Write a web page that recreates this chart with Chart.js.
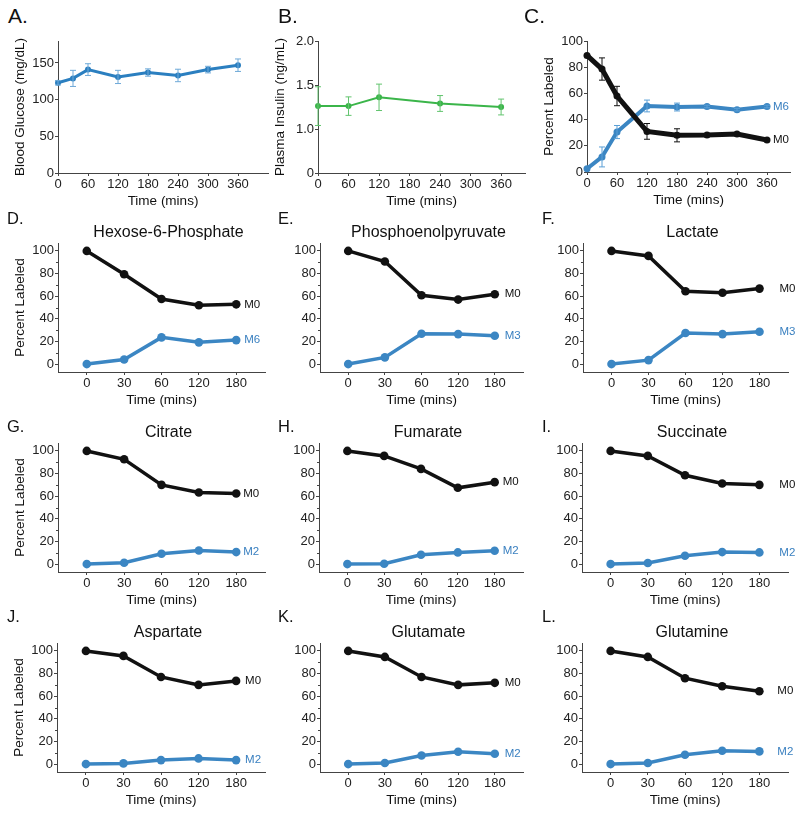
<!DOCTYPE html>
<html>
<head>
<meta charset="utf-8">
<script src="https://cdn.jsdelivr.net/npm/chart.js@4.4.1/dist/chart.umd.min.js"></script>
<style>
  body { margin: 0; width: 800px; height: 813px; position: relative; background: #fff; overflow: hidden;
         font-family: "Liberation Sans", Arial, Helvetica, sans-serif; }
  canvas { position: absolute; }
  .tag { position: absolute; color: #111; }
  .big { font-size: 21px; line-height: 21px; }
  .small { font-size: 16.5px; line-height: 16.5px; }
</style>
</head>
<body>
<script>
// ---- data ----
const minuteTicks = [0, 60, 120, 180, 240, 300, 360];

const glucoseTimes = [0, 30, 60, 120, 180, 240, 300, 360];
const glucose = [123, 129, 141, 131, 137, 133, 141, 147];
const glucoseErr = [3, 11, 8, 9, 5, 8.5, 4.5, 8.5];
const glucoseTicks = [0, 50, 100, 150];

const insulinTimes = [0, 60, 120, 240, 360];
const insulin = [1.26, 1.26, 1.36, 1.29, 1.25];
const insulinErr = [0.22, 0.105, 0.15, 0.09, 0.09];
const insulinTicks = [0.5, 1.0, 1.5, 2.0];
const insulinTickLabels = ['0', '1.0', '1.5', '2.0'];

const plasmaTimes = [0, 30, 60, 120, 180, 240, 300, 360];
const plasmaM0 = [89, 78.6, 58, 31, 28, 28.2, 29, 24.4];
const plasmaM0Err = [0, 8.5, 7.4, 6, 5, 1, 1, 1];
const plasmaM6 = [2.5, 11.5, 30.5, 50.4, 49.6, 50, 47.6, 50];
const plasmaM6Err = [0, 7.6, 5, 4.5, 3, 1, 1, 1];
const percentTicks = [0, 20, 40, 60, 80, 100];
const percentMinor = [10, 30, 50, 70, 90];

const tissueTimes = ['0', '30', '60', '120', '180'];
const tissueIdx = [0, 1, 2, 3, 4];

const metabolites = ['Hexose-6-Phosphate', 'Phosphoenolpyruvate', 'Lactate',
                     'Citrate', 'Fumarate', 'Succinate',
                     'Aspartate', 'Glutamate', 'Glutamine'];
const heavyLabels = ['M6', 'M3', 'M3', 'M2', 'M2', 'M2', 'M2', 'M2', 'M2'];

const hexoseM0 = [100, 79.4, 57.5, 52, 52.8];
const hexoseMx = [0, 4.1, 23.6, 19.2, 21.2];
const pepM0 = [100, 90.6, 60.8, 57, 61.7];
const pepMx = [0, 5.9, 26.8, 26.5, 25];
const lactateM0 = [100, 95.6, 64.3, 63.1, 66.7];
const lactateMx = [0, 3.5, 27.4, 26.5, 28.6];
const citrateM0 = [100, 92.6, 70, 63.2, 62.4];
const citrateMx = [0, 1.2, 9.1, 12, 10.6];
const fumarateM0 = [100, 95.6, 84.1, 67.4, 72.4];
const fumarateMx = [0, 0.3, 8.2, 10.3, 11.8];
const succinateM0 = [100, 95.6, 78.5, 71.2, 70];
const succinateMx = [0, 0.9, 7.4, 10.6, 10.3];
const aspartateM0 = [100, 95.6, 77, 70, 73.5];
const aspartateMx = [0, 0.6, 3.5, 5, 3.5];
const glutamateM0 = [100, 94.7, 77, 70, 71.8];
const glutamateMx = [0, 0.9, 7.6, 10.9, 9.1];
const glutamineM0 = [100, 94.7, 75.9, 68.8, 64.4];
const glutamineMx = [0, 0.9, 8.2, 11.8, 11.2];

const tissueM0 = [hexoseM0, pepM0, lactateM0, citrateM0, fumarateM0, succinateM0, aspartateM0, glutamateM0, glutamineM0];
const tissueMx = [hexoseMx, pepMx, lactateMx, citrateMx, fumarateMx, succinateMx, aspartateMx, glutamateMx, glutamineMx];

// ---- styling ----
const AXIS = '#444';
const BLACK = '#111';
const BLUE = '#3b86c3';
const BLUE_TXT = '#3a80c0';
const GREEN = '#3bb54a';
Chart.defaults.font.family = '"Liberation Sans", Arial, Helvetica, sans-serif';
Chart.defaults.color = '#222';
Chart.defaults.animation = false;

const Y_W = 46, X_H = 36, PAD_R = 22;

// error bars, minor ticks, series labels and panel titles
const extras = {
  id: 'extras',
  afterDatasetsDraw(chart) {
    const o = chart.options.plugins.extras;
    const {ctx, chartArea, scales: {x, y}} = chart;
    ctx.save();
    o.series.forEach((s, di) => {
      const pts = chart.data.datasets[di].data;
      if (s.err) {
        ctx.strokeStyle = s.errColor || s.color;
        ctx.lineWidth = 1;
        pts.forEach((p, i) => {
          const e = s.err[i];
          if (!e) return;
          const px = x.getPixelForValue(p.x);
          const y1 = y.getPixelForValue(p.y + e), y2 = y.getPixelForValue(p.y - e);
          ctx.beginPath();
          ctx.moveTo(px, y1); ctx.lineTo(px, y2);
          ctx.moveTo(px - 3, y1); ctx.lineTo(px + 3, y1);
          ctx.moveTo(px - 3, y2); ctx.lineTo(px + 3, y2);
          ctx.stroke();
        });
      }
      if (s.label) {
        const last = pts[pts.length - 1];
        ctx.fillStyle = s.labelColor;
        ctx.font = '11.5px "Liberation Sans", Arial, sans-serif';
        ctx.textAlign = 'left';
        ctx.textBaseline = 'middle';
        ctx.fillText(s.label, x.getPixelForValue(last.x) + o.labelGap, y.getPixelForValue(last.y));
      }
    });
    if (o.minor) {
      ctx.strokeStyle = AXIS;
      ctx.lineWidth = 1;
      o.minor.forEach(v => {
        const py = Math.round(y.getPixelForValue(v)) + 0.5;
        ctx.beginPath();
        ctx.moveTo(chartArea.left - 2, py); ctx.lineTo(chartArea.left, py);
        ctx.stroke();
      });
    }
    if (o.title) {
      ctx.fillStyle = BLACK;
      ctx.font = '16px "Liberation Sans", Arial, sans-serif';
      ctx.textAlign = 'center';
      ctx.textBaseline = 'alphabetic';
      ctx.fillText(o.title, (chartArea.left + chartArea.right) / 2 + 7, chartArea.top - 6);
    }
    ctx.restore();
  }
};

function panel(o) {
  const [l, r, t, b] = o.box;
  const c = document.createElement('canvas');
  c.width = Y_W + (r - l) + PAD_R;
  c.height = o.padTop + (b - t) + X_H + 4;
  c.style.left = (l - Y_W) + 'px';
  c.style.top = (t - o.padTop) + 'px';
  document.body.appendChild(c);

  const datasets = o.series.map(s => ({
    data: s.x.map((xv, i) => ({x: xv, y: s.y[i]})),
    borderColor: s.color,
    backgroundColor: s.color,
    borderWidth: s.width,
    pointRadius: s.radius,
    pointBorderWidth: 0,
    tension: 0,
    clip: false
  }));

  new Chart(c, {
    type: 'line',
    data: {datasets},
    options: {
      responsive: false,
      layout: {padding: {top: o.padTop, right: PAD_R, bottom: 4, left: 0}},
      plugins: {legend: {display: false}, tooltip: {enabled: false}, extras: o},
      scales: {
        x: {
          type: 'linear', min: o.xMin, max: o.xMax,
          afterBuildTicks: s => { s.ticks = o.xTicks.map(v => ({value: v})); },
          afterFit: s => { s.height = X_H; },
          ticks: {font: {size: 13}, padding: 1, maxRotation: 0, autoSkip: false,
                  callback: (v, i) => o.xLabels[i]},
          grid: {display: true, drawOnChartArea: false, tickLength: 3, tickColor: AXIS},
          border: {display: true, color: AXIS, width: 1},
          title: {display: true, text: 'Time (mins)', font: {size: 13.5}, padding: 0, color: BLACK}
        },
        y: {
          type: 'linear', min: o.yMin, max: o.yMax,
          afterBuildTicks: s => { s.ticks = o.yTicks.map(v => ({value: v})); },
          afterFit: s => { s.width = Y_W; },
          ticks: {font: {size: 13}, padding: 1, autoSkip: false,
                  callback: (v, i) => o.yLabels[i]},
          grid: {display: true, drawOnChartArea: false, tickLength: 3, tickColor: AXIS},
          border: {display: true, color: AXIS, width: 1},
          title: {display: !!o.yTitle, text: o.yTitle || '', font: {size: 13.5}, padding: 0, color: BLACK}
        }
      }
    },
    plugins: [extras]
  });
}

function tag(text, left, top, cls) {
  const d = document.createElement('div');
  d.className = 'tag ' + cls;
  d.textContent = text;
  d.style.left = left + 'px';
  d.style.top = top + 'px';
  document.body.appendChild(d);
}

// ---- row 1 ----
panel({
  box: [58, 268, 41, 173], padTop: 10,
  xMin: 0, xMax: 420, xTicks: minuteTicks, xLabels: minuteTicks.map(String),
  yMin: 0, yMax: 180, yTicks: glucoseTicks, yLabels: glucoseTicks.map(String),
  yTitle: 'Blood Glucose (mg/dL)',
  series: [{x: glucoseTimes, y: glucose, err: glucoseErr, color: '#2b7fc0', errColor: '#6ea9d8', width: 3, radius: 3}]
});
panel({
  box: [318, 525, 41, 173], padTop: 10,
  xMin: 0, xMax: 407, xTicks: minuteTicks, xLabels: minuteTicks.map(String),
  yMin: 0.5, yMax: 2.0, yTicks: insulinTicks, yLabels: insulinTickLabels,
  yTitle: 'Plasma Insulin (ng/mL)',
  series: [{x: insulinTimes, y: insulin, err: insulinErr, color: GREEN, errColor: '#62c46e', width: 2, radius: 3}]
});
panel({
  box: [587, 790, 41, 172], padTop: 10, labelGap: 6,
  xMin: 0, xMax: 406, xTicks: minuteTicks, xLabels: minuteTicks.map(String),
  yMin: 0, yMax: 100, yTicks: percentTicks, yLabels: percentTicks.map(String),
  yTitle: 'Percent Labeled',
  series: [
    {x: plasmaTimes, y: plasmaM0, err: plasmaM0Err, color: BLACK, width: 5, radius: 3.5, label: 'M0', labelColor: BLACK},
    {x: plasmaTimes, y: plasmaM6, err: plasmaM6Err, color: BLUE, errColor: '#5a9fd6', width: 4, radius: 3.5, label: 'M6', labelColor: BLUE_TXT}
  ]
});
tag('A.', 8, 5, 'big');
tag('B.', 278, 5, 'big');
tag('C.', 524, 5, 'big');

// ---- metabolite grid ----
const boxes = [
  [58, 265, 243, 372], [320, 523, 243, 372], [583, 788, 243, 372],
  [58, 265, 443, 572], [319, 523, 443, 572], [582, 788, 443, 572],
  [57, 265, 643, 772], [320, 523, 643, 772], [582, 788, 643, 772]
];
const gaps = [8, 10, 20, 7, 8, 20, 9, 10, 18];
const letters = ['D.', 'E.', 'F.', 'G.', 'H.', 'I.', 'J.', 'K.', 'L.'];
const tagPos = [[7, 210], [278, 210], [542, 210], [7, 418], [278, 418], [542, 418], [7, 608], [278, 608], [542, 608]];

metabolites.forEach((name, k) => {
  panel({
    box: boxes[k], padTop: 32, labelGap: gaps[k], title: name, minor: percentMinor,
    xMin: -0.77, xMax: 4.77, xTicks: tissueIdx, xLabels: tissueTimes,
    yMin: -7, yMax: 107, yTicks: percentTicks, yLabels: percentTicks.map(String),
    yTitle: k % 3 === 0 ? 'Percent Labeled' : '',
    series: [
      {x: tissueIdx, y: tissueM0[k], color: BLACK, width: 3.5, radius: 4.3, label: 'M0', labelColor: BLACK},
      {x: tissueIdx, y: tissueMx[k], color: BLUE, width: 3.5, radius: 4.3, label: heavyLabels[k], labelColor: BLUE_TXT}
    ]
  });
  tag(letters[k], tagPos[k][0], tagPos[k][1], 'small');
});
</script>
</body>
</html>
